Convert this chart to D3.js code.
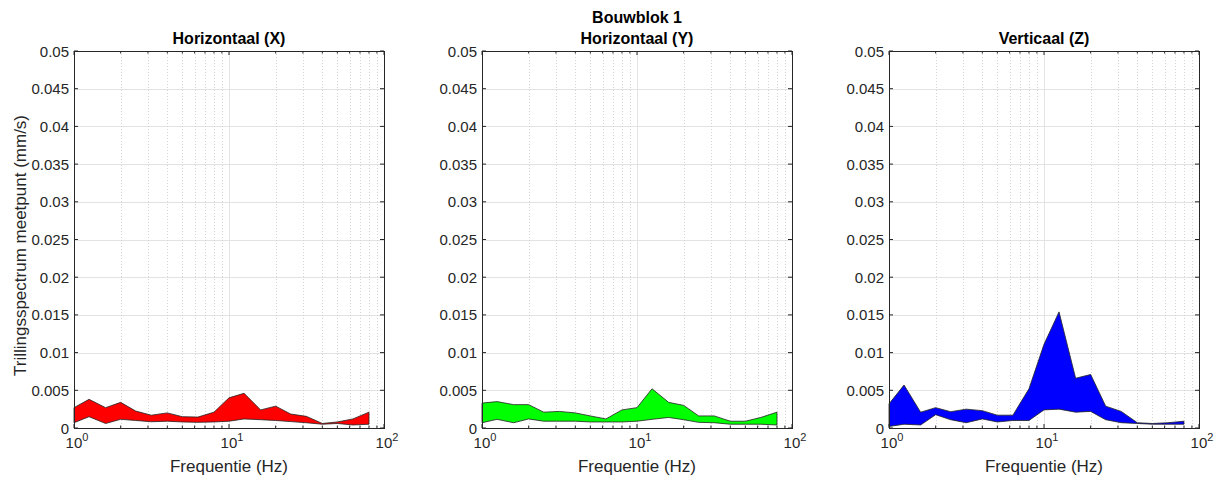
<!DOCTYPE html>
<html>
<head>
<meta charset="utf-8">
<script src="https://cdn.jsdelivr.net/npm/d3@7"></script>
<style>
  body { margin: 0; background: #fff; }
  text { font-family: "Liberation Sans", Arial, sans-serif; }
</style>
</head>
<body>
<div id="root"></div>
<script>
// 1/3 octave band centres (Hz)
const freqs = [1, 1.25, 1.6, 2, 2.5, 3.15, 4, 5, 6.3, 8, 10, 12.5, 16, 20, 25, 31.5, 40, 50, 63, 80];

const xUpper = [0.0027, 0.0038, 0.0027, 0.0034, 0.00225, 0.0017, 0.002, 0.0015, 0.00145, 0.0021, 0.004, 0.0046, 0.0024, 0.0029, 0.00185, 0.00155, 0.0006, 0.0008, 0.0012, 0.0021];
const xLower = [0.0007, 0.0015, 0.0006, 0.00115, 0.001, 0.00083, 0.0009, 0.0008, 0.00075, 0.0008, 0.0009, 0.0012, 0.0011, 0.001, 0.00085, 0.0007, 0.0005, 0.0006, 0.0004, 0.0005];

const yUpper = [0.0033, 0.0035, 0.0031, 0.0031, 0.0021, 0.0022, 0.002, 0.0016, 0.0012, 0.0024, 0.0027, 0.0052, 0.0034, 0.003, 0.0016, 0.0016, 0.0009, 0.0009, 0.0014, 0.0021];
const yLower = [0.0007, 0.00115, 0.0007, 0.0012, 0.0009, 0.0009, 0.0009, 0.0008, 0.0008, 0.0008, 0.0009, 0.00115, 0.0014, 0.0011, 0.00075, 0.0007, 0.0005, 0.0005, 0.0005, 0.0004];

const zUpper = [0.0032, 0.0057, 0.0021, 0.0027, 0.00216, 0.0025, 0.0023, 0.0017, 0.0017, 0.0052, 0.0111, 0.0154, 0.0066, 0.0071, 0.0029, 0.0022, 0.0007, 0.0006, 0.0007, 0.0009];
const zLower = [0.0002, 0.0005, 0.0004, 0.00176, 0.0011, 0.0007, 0.0012, 0.0008, 0.001, 0.001, 0.0024, 0.0025, 0.0021, 0.0022, 0.0011, 0.0007, 0.0006, 0.0005, 0.0005, 0.0005];

const panelTitles = ["Horizontaal (X)", "Horizontaal (Y)", "Verticaal (Z)"];
const panelColors = ["#ff0000", "#00ff00", "#0000ff"];
const yTicks = [0, 0.005, 0.01, 0.015, 0.02, 0.025, 0.03, 0.035, 0.04, 0.045, 0.05];
const yTickLabels = ["0", "0.005", "0.01", "0.015", "0.02", "0.025", "0.03", "0.035", "0.04", "0.045", "0.05"];
const xMajor = [1, 10, 100];
const xExponents = ["0", "1", "2"];

const series = [
  { upper: xUpper, lower: xLower },
  { upper: yUpper, lower: yLower },
  { upper: zUpper, lower: zLower },
];

const width = 1218, height = 479;
const panelLeft = [74, 482, 889];
const panelW = 310;
const plotTop = 51, plotBottom = 428;

const svg = d3.select("#root").append("svg")
  .attr("width", width)
  .attr("height", height);

// minor decade values
const minors = [];
[1, 10].forEach(d => { for (let k = 2; k <= 9; k++) minors.push(k * d); });

const y = d3.scaleLinear().domain([0, 0.05]).range([plotBottom, plotTop]);

series.forEach((s, i) => {
  const x = d3.scaleLog().domain([1, 100]).range([panelLeft[i], panelLeft[i] + panelW]);
  const g = svg.append("g");
  const x0 = x.range()[0], x1 = x.range()[1];

  // grid
  g.selectAll(".ygrid").data(yTicks.slice(1, -1)).enter().append("line")
    .attr("x1", x0).attr("x2", x1)
    .attr("y1", d => Math.round(y(d)) + 0.5).attr("y2", d => Math.round(y(d)) + 0.5)
    .attr("stroke", "#e3e3e3").attr("stroke-width", 1);
  g.selectAll(".xminor").data(minors).enter().append("line")
    .attr("x1", d => Math.round(x(d)) + 0.5).attr("x2", d => Math.round(x(d)) + 0.5)
    .attr("y1", plotTop).attr("y2", plotBottom)
    .attr("stroke", "#d4d4d4").attr("stroke-width", 1)
    .attr("stroke-dasharray", "1,2");
  g.append("line")
    .attr("x1", Math.round(x(10)) + 0.5).attr("x2", Math.round(x(10)) + 0.5)
    .attr("y1", plotTop).attr("y2", plotBottom)
    .attr("stroke", "#e3e3e3").attr("stroke-width", 1);

  // filled band
  const pts = freqs.map((f, j) => [x(f), y(s.upper[j])])
    .concat(freqs.map((f, j) => [x(f), y(s.lower[j])]).reverse());
  g.append("path")
    .attr("d", d3.line()(pts) + "Z")
    .attr("fill", panelColors[i])
    .attr("stroke", "#222")
    .attr("stroke-width", 0.8)
    .attr("stroke-linejoin", "round");

  // box
  g.append("rect")
    .attr("x", x0 + 0.5).attr("y", plotTop + 0.5)
    .attr("width", panelW).attr("height", plotBottom - plotTop)
    .attr("fill", "none").attr("stroke", "#262626").attr("stroke-width", 1);

  // ticks
  g.selectAll(".ytick").data(yTicks).enter().append("path")
    .attr("d", d => `M${x0},${y(d)}h4M${x1},${y(d)}h-4`)
    .attr("stroke", "#262626");
  g.selectAll(".xtick").data(xMajor).enter().append("path")
    .attr("d", d => `M${x(d)},${plotBottom}v-4M${x(d)},${plotTop}v4`)
    .attr("stroke", "#262626");
  g.selectAll(".xmtick").data(minors).enter().append("path")
    .attr("d", d => `M${x(d)},${plotBottom}v-2.5M${x(d)},${plotTop}v2.5`)
    .attr("stroke", "#262626");

  // y tick labels
  g.selectAll(".ylab").data(yTicks).enter().append("text")
    .attr("x", x0 - 5).attr("y", d => y(d) + 5.5)
    .attr("text-anchor", "end")
    .attr("font-size", 15).attr("fill", "#262626")
    .text((d, j) => yTickLabels[j]);

  // x tick labels 10^n
  xMajor.forEach((d, j) => {
    const t = g.append("text")
      .attr("x", x(d) + 3).attr("y", plotBottom + 20)
      .attr("text-anchor", "middle")
      .attr("font-size", 15).attr("fill", "#262626");
    t.append("tspan").text("10");
    t.append("tspan").attr("font-size", 11).attr("dy", -7).text(xExponents[j]);
  });

  // x label
  g.append("text")
    .attr("x", x0 + panelW / 2).attr("y", plotBottom + 44)
    .attr("text-anchor", "middle")
    .attr("font-size", 17).attr("fill", "#262626")
    .text("Frequentie (Hz)");

  // title
  g.append("text")
    .attr("x", x0 + panelW / 2).attr("y", plotTop - 7)
    .attr("text-anchor", "middle")
    .attr("font-size", 16).attr("font-weight", "bold").attr("fill", "#000")
    .text(panelTitles[i]);
});

// overall title
svg.append("text")
  .attr("x", panelLeft[1] + panelW / 2).attr("y", 23)
  .attr("text-anchor", "middle")
  .attr("font-size", 16).attr("font-weight", "bold").attr("fill", "#000")
  .text("Bouwblok 1");

// y label
svg.append("text")
  .attr("transform", `translate(26,${(plotTop + plotBottom) / 2 + 6}) rotate(-90)`)
  .attr("text-anchor", "middle")
  .attr("font-size", 17).attr("fill", "#262626")
  .text("Trillingsspectrum meetpunt (mm/s)");
</script>
</body>
</html>
